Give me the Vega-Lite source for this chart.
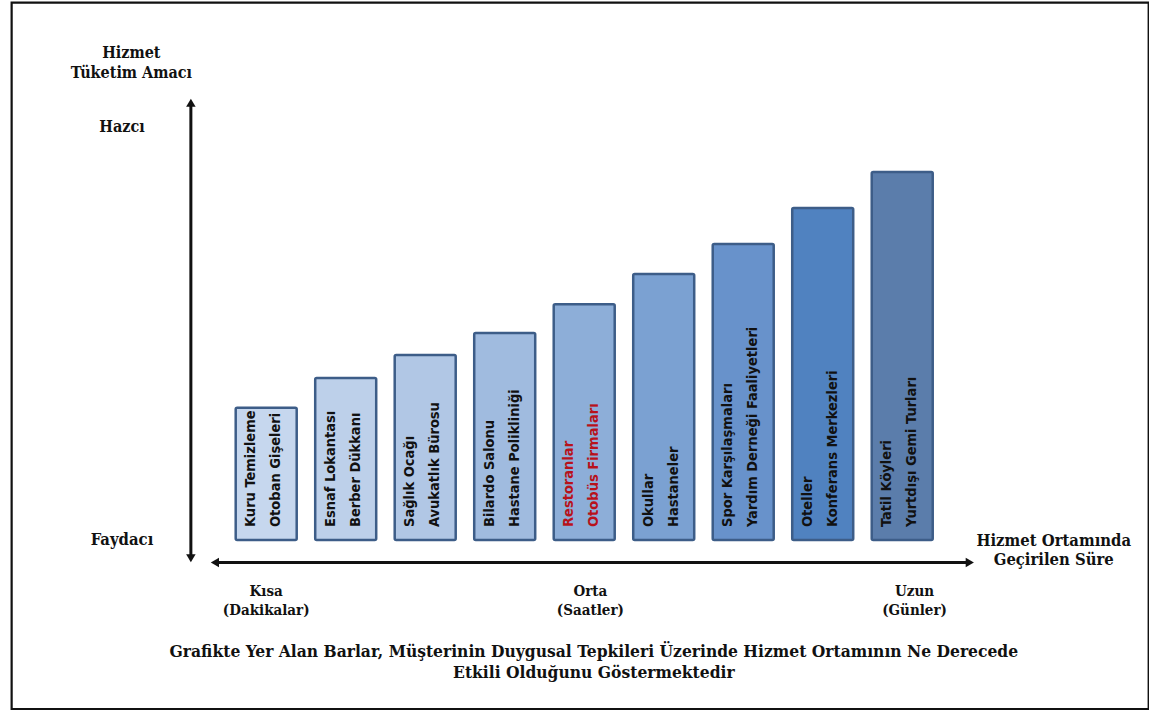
{
  "$schema": "https://vega.github.io/schema/vega-lite/v6.json",
  "width": 1149,
  "height": 711,
  "padding": 0,
  "autosize": {"type": "none"},
  "background": "white",
  "config": {"view": {"stroke": null}},
  "data": {"values": [
    {"rank": 1, "service": "Kuru Temizleme\nOtoban Gişeleri", "level": 32.0},
    {"rank": 2, "service": "Esnaf Lokantası\nBerber Dükkanı", "level": 39.2},
    {"rank": 3, "service": "Sağlık Ocağı\nAvukatlık Bürosu", "level": 44.8},
    {"rank": 4, "service": "Bilardo Salonu\nHastane Polikliniği", "level": 50.1},
    {"rank": 5, "service": "Restoranlar\nOtobüs Firmaları", "level": 57.1},
    {"rank": 6, "service": "Okullar\nHastaneler", "level": 64.4},
    {"rank": 7, "service": "Spor Karşılaşmaları\nYardım Derneği Faaliyetleri", "level": 71.7},
    {"rank": 8, "service": "Oteller\nKonferans Merkezleri", "level": 80.4},
    {"rank": 9, "service": "Tatil Köyleri\nYurtdışı Gemi Turları", "level": 89.1}
  ]},
  "encoding": {
    "x": {"type": "quantitative", "scale": {"domain": [-2.2855, 12.0411], "nice": false, "zero": false}, "axis": null},
    "y": {"type": "quantitative", "scale": {"domain": [-41.404, 130.751], "nice": false, "zero": false}, "axis": null}
  },
  "layer": [
    {
      "data": {"values": [{}]},
      "mark": {"type": "rect", "fill": null, "fillOpacity": 0, "stroke": "#111111", "strokeWidth": 2.2},
      "encoding": {
        "x": {"datum": -2.202, "type": "quantitative"},
        "x2": {"datum": 12.1},
        "y": {"datum": 130.1, "type": "quantitative"},
        "y2": {"datum": -40.92}
      }
    },
    {
      "mark": {"type": "bar", "width": 61, "stroke": "#3d5d88", "strokeWidth": 2.5, "cornerRadius": 1.5},
      "encoding": {
        "x": {"field": "rank", "type": "quantitative"},
        "y": {"field": "level", "type": "quantitative"},
        "y2": {"datum": 0},
        "color": {
          "field": "rank", "type": "ordinal", "legend": null,
          "scale": {"domain": [1,2,3,4,5,6,7,8,9], "range": ["#c6d7ee", "#bdd0ea", "#b1c7e5", "#a0bbdf", "#8daed8", "#7ba1d2", "#6892cb", "#5082c0", "#5b7dab"]}
        }
      }
    },
    {
      "mark": {"type": "text", "angle": 270, "align": "left", "baseline": "middle", "dx": 13, "dy": -15, "lineBreak": "\n", "lineHeight": 25, "font": "DejaVu Sans Condensed, Arial", "fontWeight": "bold", "fontSize": 14.5},
      "encoding": {
        "x": {"field": "rank", "type": "quantitative"},
        "y": {"datum": 0, "type": "quantitative"},
        "text": {"field": "service", "type": "nominal"},
        "color": {"condition": {"test": "datum.rank === 5", "value": "#b8121b"}, "value": "#111111"}
      }
    },
    {
      "data": {"values": [{}]},
      "mark": {"type": "rule", "color": "#111111", "strokeWidth": 3},
      "encoding": {
        "x": {"datum": 0.0524, "type": "quantitative"},
        "y": {"datum": 105.5, "type": "quantitative"},
        "y2": {"datum": -4.0}
      }
    },
    {
      "data": {"values": [{}]},
      "mark": {"type": "rule", "color": "#111111", "strokeWidth": 3},
      "encoding": {
        "x": {"datum": 0.36, "type": "quantitative"},
        "x2": {"datum": 9.84},
        "y": {"datum": -5.45, "type": "quantitative"}
      }
    },
    {
      "data": {"values": [{}]},
      "mark": {"type": "point", "shape": "triangle-up", "filled": true, "color": "#111111", "size": 90, "opacity": 1},
      "encoding": {"x": {"datum": 0.0524, "type": "quantitative"}, "y": {"datum": 105.87, "type": "quantitative"}}
    },
    {
      "data": {"values": [{}]},
      "mark": {"type": "point", "shape": "triangle-down", "filled": true, "color": "#111111", "size": 90, "opacity": 1},
      "encoding": {"x": {"datum": 0.0524, "type": "quantitative"}, "y": {"datum": -4.42, "type": "quantitative"}}
    },
    {
      "data": {"values": [{}]},
      "mark": {"type": "point", "shape": "triangle-left", "filled": true, "color": "#111111", "size": 90, "opacity": 1},
      "encoding": {"x": {"datum": 0.3547, "type": "quantitative"}, "y": {"datum": -5.45, "type": "quantitative"}}
    },
    {
      "data": {"values": [{}]},
      "mark": {"type": "point", "shape": "triangle-right", "filled": true, "color": "#111111", "size": 90, "opacity": 1},
      "encoding": {"x": {"datum": 9.85, "type": "quantitative"}, "y": {"datum": -5.45, "type": "quantitative"}}
    },
    {
      "data": {"values": [{}]},
      "mark": {"type": "text", "text": ["Hizmet", "Tüketim Amacı"], "lineHeight": 20, "align": "center", "baseline": "middle", "dy": -10, "font": "DejaVu Serif Condensed, DejaVu Serif", "fontWeight": "bold", "fontSize": 16, "color": "#111111"},
      "encoding": {"x": {"datum": -0.696, "type": "quantitative"}, "y": {"datum": 115.5, "type": "quantitative"}}
    },
    {
      "data": {"values": [{}]},
      "mark": {"type": "text", "text": "Hazcı", "align": "center", "baseline": "middle", "font": "DejaVu Serif Condensed, DejaVu Serif", "fontWeight": "bold", "fontSize": 16, "color": "#111111"},
      "encoding": {"x": {"datum": -0.814, "type": "quantitative"}, "y": {"datum": 100, "type": "quantitative"}}
    },
    {
      "data": {"values": [{}]},
      "mark": {"type": "text", "text": "Faydacı", "align": "center", "baseline": "middle", "font": "DejaVu Serif Condensed, DejaVu Serif", "fontWeight": "bold", "fontSize": 16.5, "color": "#111111"},
      "encoding": {"x": {"datum": -0.814, "type": "quantitative"}, "y": {"datum": 0, "type": "quantitative"}}
    },
    {
      "data": {"values": [{}]},
      "mark": {"type": "text", "text": ["Hizmet Ortamında", "Geçirilen Süre"], "lineHeight": 19, "align": "center", "baseline": "middle", "dy": -9.5, "font": "DejaVu Serif Condensed, DejaVu Serif", "fontWeight": "bold", "fontSize": 16.5, "color": "#111111"},
      "encoding": {"x": {"datum": 10.906, "type": "quantitative"}, "y": {"datum": -2.54, "type": "quantitative"}}
    },
    {
      "data": {"values": [
        {"period": "Kısa\n(Dakikalar)", "pos": 1.0},
        {"period": "Orta\n(Saatler)", "pos": 5.077},
        {"period": "Uzun\n(Günler)", "pos": 9.155}
      ]},
      "mark": {"type": "text", "lineBreak": "\n", "lineHeight": 19, "align": "center", "baseline": "middle", "dy": -9.5, "font": "DejaVu Serif Condensed, DejaVu Serif", "fontWeight": "bold", "fontSize": 15, "color": "#111111"},
      "encoding": {"x": {"field": "pos", "type": "quantitative"}, "y": {"datum": -14.65, "type": "quantitative"}, "text": {"field": "period", "type": "nominal"}}
    },
    {
      "data": {"values": [{}]},
      "mark": {"type": "text", "text": ["Grafikte Yer Alan Barlar, Müşterinin Duygusal Tepkileri Üzerinde Hizmet Ortamının  Ne Derecede", "Etkili Olduğunu Göstermektedir"], "lineHeight": 21, "align": "center", "baseline": "middle", "dy": -10.5, "font": "DejaVu Serif Condensed, DejaVu Serif", "fontWeight": "bold", "fontSize": 17.3, "color": "#111111"},
      "encoding": {"x": {"datum": 5.121, "type": "quantitative"}, "y": {"datum": -29.66, "type": "quantitative"}}
    }
  ]
}
